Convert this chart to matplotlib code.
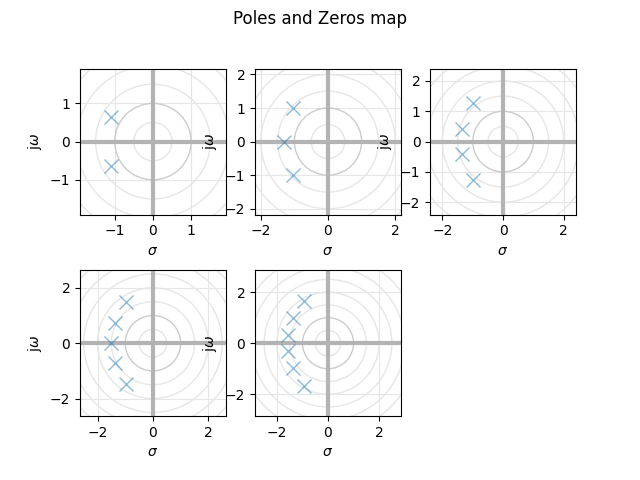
import numpy as np
import matplotlib
matplotlib.use("Agg")
import matplotlib.pyplot as plt

# Pole locations (real, imag) per filter order
poles_re = [
    [-1.1016, -1.1016],
    [-1.0474, -1.3226, -1.0474],
    [-0.9952, -1.3700, -1.3700, -0.9952],
    [-0.9576, -1.3808, -1.5023, -1.3808, -0.9576],
    [-0.9307, -1.3819, -1.5716, -1.5716, -1.3819, -0.9307],
]
poles_im = [
    [0.6368, -0.6368],
    [0.9992, 0.0, -0.9992],
    [1.2571, 0.4102, -0.4102, -1.2571],
    [1.4711, 0.7179, 0.0, -0.7179, -1.4711],
    [1.6620, 0.9715, 0.3209, -0.3209, -0.9715, -1.6620],
]
radii = [0.5, 1.0, 1.5, 2.0, 2.5, 3.0, 3.5]

fig, axes = plt.subplots(2, 3, figsize=(6.4, 4.8), dpi=100)
fig.suptitle("Poles and Zeros map")
axs = axes.ravel()
for i, (re, im) in enumerate(zip(poles_re, poles_im)):
    ax = axs[i]
    re = np.array(re); im = np.array(im)
    rmax = np.max(np.hypot(re, im))
    lim = 1.5 * rmax
    for r in radii:
        c = '0.8' if r == 1.0 else '0.9'
        ax.add_patch(plt.Circle((0, 0), r, fill=False, color=c, lw=1, zorder=1))
    ax.axhline(0, color='0.7', lw=3, zorder=2)
    ax.axvline(0, color='0.7', lw=3, zorder=2)
    ax.plot(re, im, 'x', color='C0', ms=10, alpha=0.5, zorder=3)
    ax.set_xlim(-lim, lim)
    ax.set_ylim(-lim, lim)
    ax.set_aspect('equal')
    ax.grid(True, color='0.9', lw=0.8)
    ax.set_axisbelow(True)
    ax.set_xlabel(r"$\sigma$")
    ax.set_ylabel(r"j$\omega$")
axs[5].remove()
fig.savefig("out.png", dpi=100)
